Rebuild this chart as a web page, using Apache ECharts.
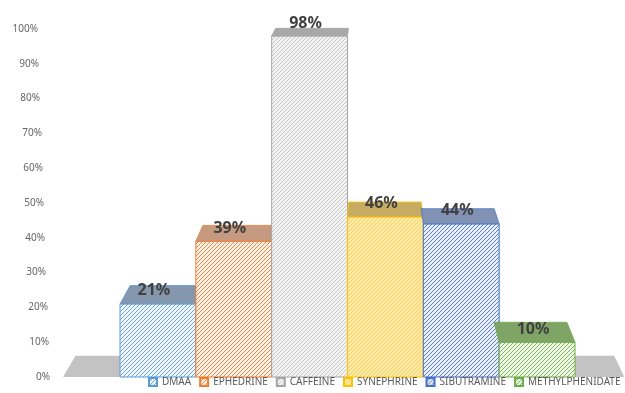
<!DOCTYPE html>
<html>
<head>
<meta charset="utf-8">
<script src="https://cdn.jsdelivr.net/npm/echarts@6/dist/echarts.min.js"></script>
<style>
  html, body { margin: 0; padding: 0; background: #ffffff; }
  #chart { width: 625px; height: 393px; }
</style>
</head>
<body>
<div id="chart"></div>
<script>
// Substances and the share of samples in which each was found (%)
const categories = ['DMAA', 'EPHEDRINE', 'CAFFEINE', 'SYNEPHRINE', 'SIBUTRAMINE', 'METHYLPHENIDATE'];
const values = [21, 39, 98, 46, 44, 10];
// Percentage ticks on the value axis
const tickValues = [0, 10, 20, 30, 40, 50, 60, 70, 80, 90, 100];

// Colours per substance: hatch stripes / front background / edges / top face
const stripeColors = ['#6ea6da', '#ef8a46', '#c6c6c6', '#f6d25f', '#5a80ca', '#7fb75a'];
const backColors   = ['#f1f6fc', '#fef1e8', '#f3f3f3', '#fde9a6', '#e8edf7', '#eef6e8'];
const edgeColors   = ['#5b9bd5', '#ed7d31', '#a5a5a5', '#ffc000', '#4472c4', '#70ad47'];
const topColors    = ['#8497ad', '#c69a80', '#a8a8a8', '#c6ab63', '#8192b5', '#7fa566'];

// Simple one-point perspective used for the top faces and the floor
const VANISH = [372, -155];
const DEPTH = 0.04;
function toBack(p) {
  return [p[0] + DEPTH * (VANISH[0] - p[0]), p[1] + DEPTH * (VANISH[1] - p[1])];
}

// Diagonal hatch tile
function hatch(stripe, bg) {
  const s = 4;
  const c = document.createElement('canvas');
  c.width = s; c.height = s;
  const g = c.getContext('2d');
  g.fillStyle = bg;
  g.fillRect(0, 0, s, s);
  g.strokeStyle = stripe;
  g.lineWidth = 1;
  g.beginPath();
  g.moveTo(-1, s + 1); g.lineTo(s + 1, -1);
  g.moveTo(-1, 1); g.lineTo(1, -1);
  g.moveTo(s - 1, s + 1); g.lineTo(s + 1, s - 1);
  g.stroke();
  return { image: c, repeat: 'repeat' };
}
const patterns = categories.map((_, i) => hatch(stripeColors[i], backColors[i]));

function renderFloor(params, api) {
  const w = api.size([1, 0])[0];
  const l = api.coord([0, 0]);
  const r = api.coord([categories.length - 1, 0]);
  const fl = [l[0] - w / 2 - 0.75 * w, l[1]];
  const fr = [r[0] + w / 2 + 0.65 * w, r[1]];
  return {
    type: 'polygon',
    shape: { points: [fl, fr, toBack(fr), toBack(fl)] },
    style: { fill: '#c3c3c3' }
  };
}

function makeBarRenderer(i) {
  return function (params, api) {
    const cat = api.value(0);
    const v = api.value(1);
    const top = api.coord([cat, v]);
    const base = api.coord([cat, 0]);
    const w = api.size([1, 0])[0];
    const x0 = top[0] - w / 2;
    const x1 = top[0] + w / 2;
    const fl = [x0, top[1]];
    const fr = [x1, top[1]];
    return {
      type: 'group',
      children: [
        {
          type: 'rect',
          shape: { x: x0, y: top[1], width: w, height: base[1] - top[1] },
          style: { fill: patterns[i], stroke: edgeColors[i], lineWidth: 1 }
        },
        {
          type: 'polygon',
          shape: { points: [fl, fr, toBack(fr), toBack(fl)] },
          style: { fill: topColors[i], stroke: edgeColors[i], lineWidth: 0.8 }
        },
        {
          type: 'text',
          z2: 10,
          style: {
            text: v + '%',
            x: top[0] - 4,
            y: top[1] - 13,
            align: 'center',
            verticalAlign: 'middle',
            font: 'bold 16px "Noto Sans"',
            fill: '#404040'
          }
        }
      ]
    };
  };
}

// Label styles step outward toward the bottom, following the floor's slant
const labelRich = {};
tickValues.forEach(t => {
  labelRich['p' + t] = { padding: [0, Math.round(t * 0.12), 0, 0] };
});

const series = [{
  type: 'custom',
  name: 'floor',
  silent: true,
  data: [[0, 0]],
  renderItem: renderFloor,
  z: 1
}];
categories.forEach((name, i) => {
  series.push({
    type: 'custom',
    name: name,
    data: [[i, values[i]]],
    renderItem: makeBarRenderer(i),
    itemStyle: { color: patterns[i], borderColor: edgeColors[i], borderWidth: 1 },
    z: 2
  });
});

const chart = echarts.init(document.getElementById('chart'), null, { renderer: 'canvas' });
chart.setOption({
  animation: false,
  backgroundColor: '#ffffff',
  textStyle: { fontFamily: 'Noto Sans' },
  grid: { left: 120, right: 50, top: 29, bottom: 16 },
  xAxis: {
    type: 'category',
    data: categories,
    axisLine: { show: false },
    axisTick: { show: false },
    axisLabel: { show: false },
    splitLine: { show: false }
  },
  yAxis: {
    type: 'value',
    min: 0,
    max: 100,
    interval: 10,
    axisLine: { show: false },
    axisTick: { show: false },
    splitLine: { show: false },
    axisLabel: {
      margin: 70,
      fontSize: 10,
      color: '#666666',
      formatter: v => '{p' + v + '|' + v + '%}',
      rich: labelRich
    }
  },
  legend: {
    data: categories,
    left: 148,
    top: 377,
    width: 477,
    padding: 0,
    icon: 'rect',
    itemWidth: 8,
    itemHeight: 8,
    itemGap: 8,
    textStyle: { fontSize: 10, color: '#595959', fontFamily: 'Noto Sans' }
  },
  series: series
});
</script>
</body>
</html>
